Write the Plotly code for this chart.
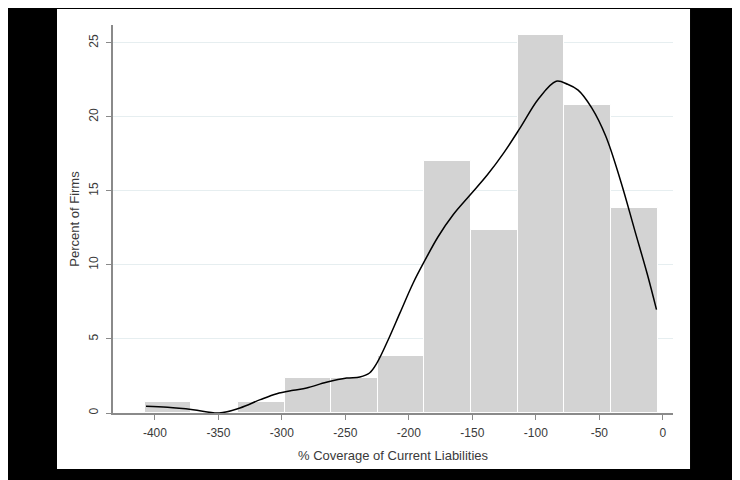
import plotly.graph_objects as go

# Histogram bins (left edges) and percent of firms
bin_left = [-407.9, -371.2, -334.5, -297.8, -261.1, -224.4, -187.7, -151.0, -114.3, -77.6, -40.9]
bin_width = 36.7
percent = [0.76, 0.0, 0.76, 2.36, 2.33, 3.83, 17.0, 12.34, 25.5, 20.83, 13.85]

# Kernel density curve (scaled to percent)
kd_x = [-407, -390, -370, -349.4, -333, -317, -304, -291, -280.5, -265, -249, -238.6, -231,
        -225, -216, -207, -196.6, -187.4, -177, -165, -152, -138, -125, -112, -98,
        -84, -75, -66.7, -56, -45, -33, -22, -12, -5]
kd_y = [0.45, 0.38, 0.22, 0.0, 0.34, 0.9, 1.3, 1.53, 1.69, 2.07, 2.36, 2.43, 2.7,
        3.4, 5.0, 6.76, 8.78, 10.3, 11.9, 13.4, 14.7, 16.1, 17.6, 19.3, 21.2,
        22.4, 22.2, 21.8, 20.6, 18.7, 15.6, 12.3, 9.3, 6.98]

y_ticks = [0, 5, 10, 15, 20, 25]
x_ticks = [-400, -350, -300, -250, -200, -150, -100, -50, 0]

centers = [b + bin_width / 2 for b in bin_left]

fig = go.Figure()
fig.add_trace(go.Bar(
    x=centers, y=percent, width=[bin_width] * len(centers),
    marker=dict(color="#d3d3d3", line=dict(color="white", width=1)),
    showlegend=False, hoverinfo="skip"))
fig.add_trace(go.Scatter(
    x=kd_x, y=kd_y, mode="lines",
    line=dict(color="black", width=1.5, shape="spline", smoothing=1.0),
    showlegend=False))

FONT = "Liberation Sans, Arial, sans-serif"
tickfont = dict(family=FONT, size=12, color="#3a3a3a")
titlefont = dict(family=FONT, size=13, color="#3a3a3a")

fig.update_layout(
    width=740, height=480,
    margin=dict(l=105, r=75, t=17, b=75),
    paper_bgcolor="black", plot_bgcolor="white",
    bargap=0,
    shapes=[dict(type="rect", xref="paper", yref="paper",
                 x0=-0.1, x1=1.0304, y0=-0.1443, y1=1.0412,
                 fillcolor="white", line=dict(width=0), layer="below")],
    xaxis=dict(range=[-433, 8], tickvals=x_ticks, ticktext=[str(v) for v in x_ticks],
               ticks="outside", ticklen=5, ticklabelstandoff=3,
               tickcolor="#8a8a8a", showline=True, linecolor="#8a8a8a", linewidth=1.5,
               showgrid=False, zeroline=False, tickfont=tickfont,
               title=dict(text="% Coverage of Current Liabilities", standoff=12, font=titlefont)),
    yaxis=dict(range=[0, 26.2], tickvals=y_ticks, ticktext=[str(v) for v in y_ticks],
               ticks="outside", ticklen=5, ticklabelstandoff=3,
               tickcolor="#8a8a8a", showline=True, linecolor="#8a8a8a", linewidth=1.5,
               showgrid=True, gridcolor="#e6eef0", gridwidth=1, zeroline=False,
               tickangle=-90, tickfont=tickfont,
               title=dict(text="Percent of Firms", standoff=5, font=titlefont)),
)

fig.write_html("out.html")
